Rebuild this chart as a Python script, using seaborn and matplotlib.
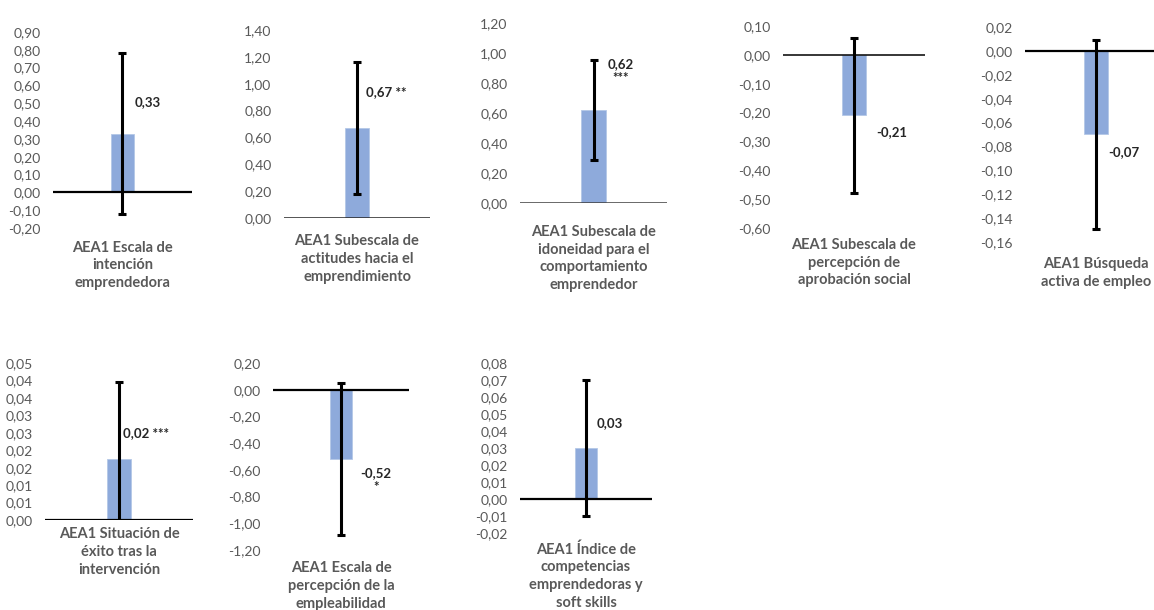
import matplotlib
matplotlib.use("Agg")
import matplotlib.pyplot as plt
import seaborn as sns
import pandas as pd

# ---- data -------------------------------------------------------------
categories = [
    "AEA1 Escala de\nintención\nemprendedora",
    "AEA1 Subescala de\nactitudes hacia el\nemprendimiento",
    "AEA1 Subescala de\nidoneidad para el\ncomportamiento\nemprendedor",
    "AEA1 Subescala de\npercepción de\naprobación social",
    "AEA1 Búsqueda\nactiva de empleo",
    "AEA1 Situación de\néxito tras la\nintervención",
    "AEA1 Escala de\npercepción de la\nempleabilidad",
    "AEA1 Índice de\ncompetencias\nemprendedoras y\nsoft skills",
]
effects = [0.33, 0.67, 0.62, -0.21, -0.07, 0.0175, -0.52, 0.03]
errors = [0.45, 0.49, 0.335, 0.27, 0.079, 0.022, 0.57, 0.04]
significance = ["", " **", "\n***", "", "", " ***", "\n*", ""]

y_limits = [(-0.20, 0.90), (0.0, 1.40), (0.0, 1.20), (-0.60, 0.10),
            (-0.16, 0.02), (0.0, 0.045), (-1.20, 0.20), (-0.02, 0.08)]
y_steps = [0.10, 0.20, 0.20, 0.10, 0.02, 0.005, 0.20, 0.01]

# ---- layout (pixels on a 1154 x 610 canvas) ---------------------------
W, H = 1154, 610
# left, right, top, bottom of each plotting area
boxes = [(53, 192, 32, 228), (284, 430, 30, 218), (520, 667, 23, 203),
         (783, 925, 26, 228), (1025, 1167, 27, 242), (45, 193, 363, 520),
         (273, 409, 363, 550), (520, 652, 363, 533)]
# vertical centre of the category caption block
caption_y = [265.5, 259, 258.5, 262.5, 273, 552, 586, 576]
# value label offset from bar end (px right, px up) and alignment
label_offsets = [(12, 31, "left"), (9, 36, "left"), (27, 39, "center"),
                 (22, -17, "left"), (12, -18, "left"), (4, 26, "left"),
                 (35, -21, "center"), (11, 25, "left")]
zero_line = [("black", 1.6), ("#262626", 1.1), ("#404040", 1.1),
             ("black", 1.1), ("black", 1.6), ("black", 1.6),
             ("black", 1.6), ("black", 1.6)]

BAR_COLOR = "#8eaadb"
TICK_COLOR = "#595959"

sns.set_theme(style="white")
plt.rcParams["font.family"] = ["Lato", "DejaVu Sans"]


def fmt(v, decimals=2):
    # Spanish decimal comma, rounding half away from zero
    from decimal import Decimal, ROUND_HALF_UP
    q = Decimal(repr(round(v, 6))).quantize(Decimal(10) ** -decimals,
                                             rounding=ROUND_HALF_UP)
    s = f"{q:.{decimals}f}"
    if s.startswith("-") and float(q) == 0:
        s = s[1:]
    return s.replace(".", ",")


fig = plt.figure(figsize=(W / 100, H / 100), dpi=100)

for i, cat in enumerate(categories):
    l, r, t, b = boxes[i]
    ax = fig.add_axes([l / W, 1 - b / H, (r - l) / W, (b - t) / H])
    df = pd.DataFrame({"cat": [cat], "val": [effects[i]]})
    sns.barplot(data=df, x="cat", y="val", ax=ax, color=BAR_COLOR,
                width=0.165, saturation=1, edgecolor="#b4c7e7", linewidth=0.6)
    ax.errorbar([0], [effects[i]], yerr=[errors[i]], fmt="none",
                ecolor="black", elinewidth=2.2, capsize=3.2, capthick=2.2,
                zorder=5, clip_on=True)
    c, lw = zero_line[i]
    ax.axhline(0, color=c, lw=lw, zorder=4)

    lo, hi = y_limits[i]
    step = y_steps[i]
    n = int(round((hi - lo) / step))
    ticks = [lo + k * step for k in range(n + 1)]
    ax.set_ylim(lo, hi)
    ax.set_yticks(ticks)
    ax.set_yticklabels([fmt(v) for v in ticks])
    ax.tick_params(axis="y", length=0, pad=9, labelsize=10,
                   labelcolor=TICK_COLOR)
    ax.set_xlim(-0.5, 0.5)
    ax.set_xticks([])
    ax.set_xlabel("")
    ax.set_ylabel("")
    for sp in ax.spines.values():
        sp.set_visible(False)
    ax.set_facecolor("none")

    dx, dy, ha = label_offsets[i]
    ax.annotate(fmt(effects[i]) + significance[i], xy=(0, effects[i]),
                xytext=(dx * 0.72, dy * 0.72), textcoords="offset points",
                ha=ha, va="center", fontsize=9.5, fontweight="bold",
                color="#262626", linespacing=1.15, annotation_clip=False)

    cx = (l + r) / 2 if i != 4 else 1096
    fig.text(cx / W, 1 - caption_y[i] / H, cat, ha="center", va="center",
             fontsize=10.5, fontweight="bold", color=TICK_COLOR,
             linespacing=1.33)

fig.savefig("out.png", dpi=100, facecolor="white")
